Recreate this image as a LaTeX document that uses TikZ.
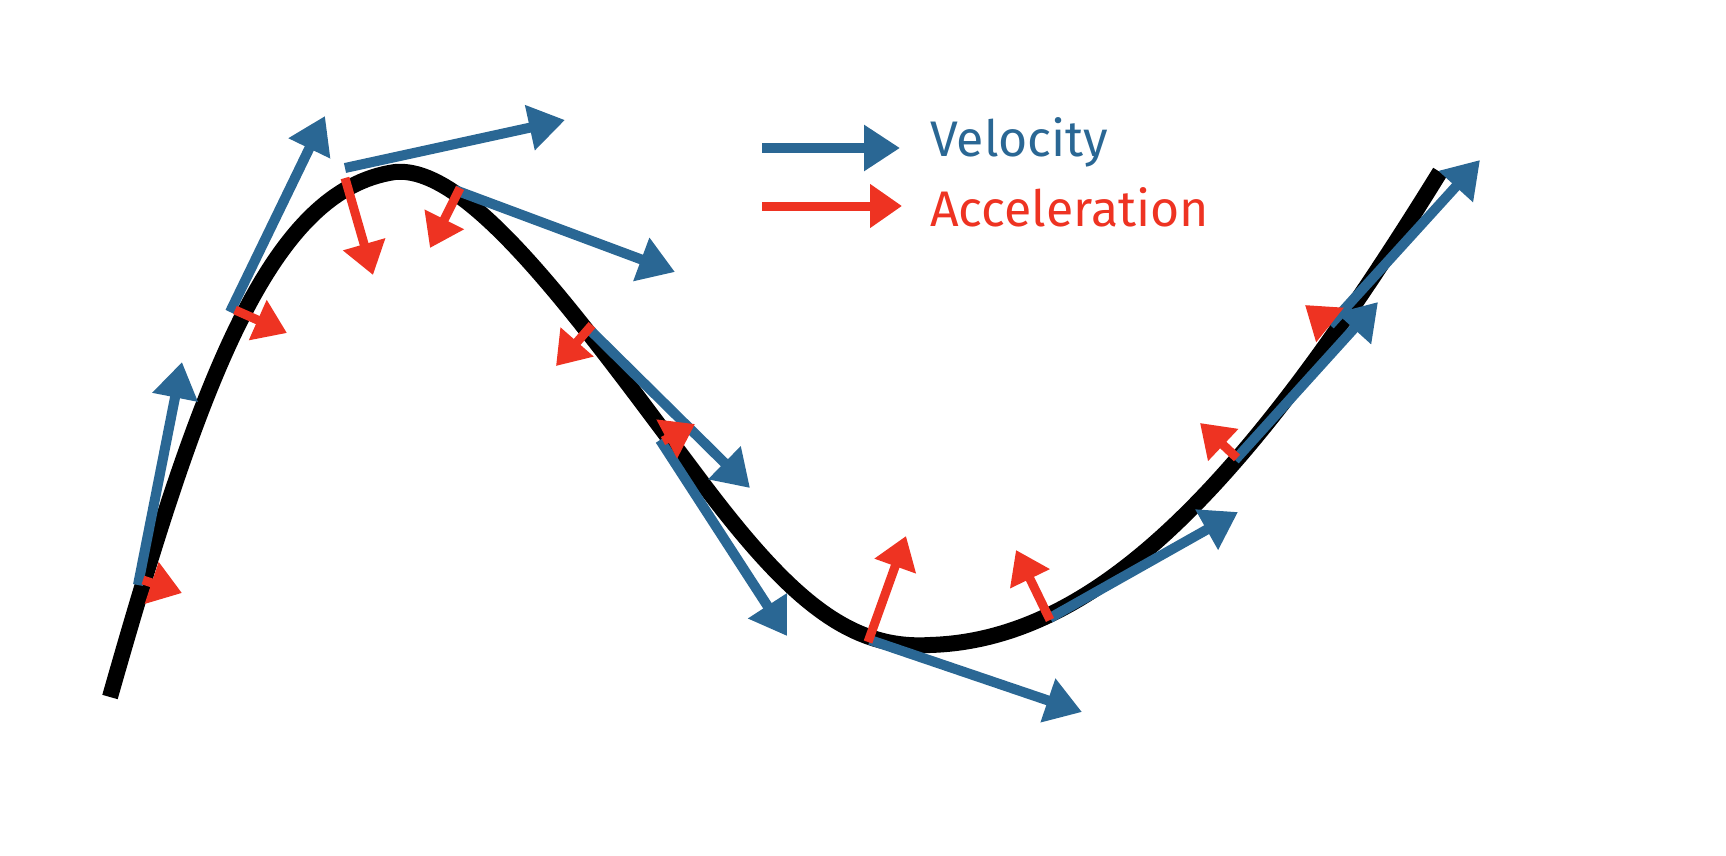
\documentclass[tikz,border=0pt]{standalone}
\usepackage{fontspec}
\setmainfont{Fira Sans}
\usetikzlibrary{arrows.meta}
\definecolor{vblue}{HTML}{2A6794}
\definecolor{ared}{HTML}{EE3322}
\tikzset{
 vel/.style={draw=vblue,line width=10pt,-{Triangle[width=44pt,length=36pt]}},
 acc/.style={draw=ared,line width=9pt,-{Triangle[width=42pt,length=32pt]}},
 lab/.style={anchor=west,font=\fontsize{50}{60}\selectfont,inner sep=0pt}
}
\begin{document}
\begin{tikzpicture}[x=1pt,y=-1pt]
\useasboundingbox (0,0) rectangle (1726,856);
\draw[line width=16pt] (110,697) .. controls (200,380) and (270,190) .. (395,172)
  .. controls (470,165) and (580,320) .. (700,480)
  .. controls (790,600) and (850,650) .. (930,645)
  .. controls (1100,640) and (1250,480) .. (1440,172);
% velocity
\foreach \a/\b/\c/\d in {138/585/182/362, 230/312/325/116, 345/168/565/120, 455/190/675/272,
  590/330/750/488, 660/440/787/636, 870/640/1082/712, 1050/618/1238/512,
  1235/460/1378/302, 1330/325/1480/160}
  { \coordinate (s) at (\a,\b); \coordinate (e) at (\c,\d); \draw[vel] (s) -- (e); }
% acceleration
\foreach \a/\b/\c/\d in {143/580/182/593, 235/310/287/333, 345/178/373/275, 460/188/430/248,
  592/325/556/366, 663/441/695/424, 868/642/906/536, 1050/620/1016/550,
  1237/458/1200/423, 1330/325/1305/305}
  { \coordinate (s) at (\a,\b); \coordinate (e) at (\c,\d); \draw[acc] (s) -- (e); }
% legend
\coordinate (v1) at (762,148); \coordinate (v2) at (900,148);
\coordinate (r1) at (762,206); \coordinate (r2) at (902,206);
\draw[vel] (v1) -- (v2);
\draw[acc] (r1) -- (r2);
\node[lab,text=vblue] (vt) at (930,142) {Velocity};
\node[lab,text=ared] (at) at (930,207) {Acceleration};
\end{tikzpicture}
\end{document}
